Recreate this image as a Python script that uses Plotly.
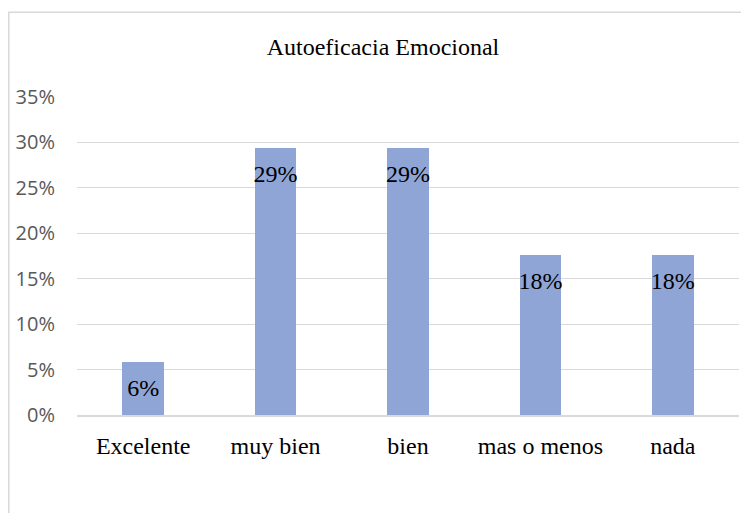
import plotly.graph_objects as go

categorias = ["Excelente", "muy bien", "bien", "mas o menos", "nada"]
porcentajes = [0.0588, 0.2941, 0.2941, 0.1765, 0.1765]
etiquetas = ["6%", "29%", "29%", "18%", "18%"]
ticks_y = [0, 0.05, 0.10, 0.15, 0.20, 0.25, 0.30, 0.35]

SERIF = "Liberation Serif, Times New Roman, serif"
SANS = "Open Sans, Liberation Sans, sans-serif"
BAR_COLOR = "#8FA5D6"
GRID = "#D9D9D9"

# the page body adds an 8px offset, so the figure is sized/positioned for it
W, H = 741, 505
OFF = 8

fig = go.Figure()
fig.add_trace(go.Bar(
    x=categorias,
    y=porcentajes,
    width=0.315,
    marker=dict(color=BAR_COLOR, line=dict(width=0)),
    hoverinfo="skip",
))
# etiquetas dentro de la barra, bajo el extremo superior
fig.add_trace(go.Scatter(
    x=categorias,
    y=porcentajes,
    mode="markers+text",
    text=etiquetas,
    textposition="bottom center",
    textfont=dict(family=SERIF, size=24, color="#000000"),
    marker=dict(size=24, opacity=0),
    hoverinfo="skip",
))

plot_left, plot_right = 77 - OFF, 739 - OFF
plot_top, plot_bottom = 97 - OFF, 415.5 - OFF
pw = plot_right - plot_left
ph = plot_bottom - plot_top

fig.add_shape(
    type="rect",
    xref="paper", yref="paper",
    x0=(0.8 - plot_left) / pw, x1=1.2,
    y0=-0.5, y1=1 + (plot_top - 4) / ph,
    line=dict(color=GRID, width=1.5),
    fillcolor="rgba(0,0,0,0)",
    layer="below",
)

fig.update_layout(
    width=W,
    height=H,
    margin=dict(l=plot_left, r=W - plot_right, t=plot_top, b=H - plot_bottom),
    paper_bgcolor="white",
    plot_bgcolor="white",
    showlegend=False,
    bargap=0,
    title=dict(
        text="Autoeficacia Emocional",
        x=(383 - OFF) / W, xanchor="center",
        y=1 - (47 - OFF) / H, yanchor="middle",
        font=dict(family=SERIF, size=24, color="#000000"),
    ),
    xaxis=dict(
        showgrid=False,
        showline=True,
        linecolor=GRID,
        linewidth=1.5,
        ticks="",
        ticklabelstandoff=8,
        tickfont=dict(family=SERIF, size=24, color="#000000"),
        automargin=False,
        fixedrange=True,
    ),
    yaxis=dict(
        range=[0, 0.35],
        tickvals=ticks_y,
        tickformat=".0%",
        showgrid=True,
        gridcolor=GRID,
        gridwidth=1.2,
        zeroline=False,
        showline=False,
        ticks="",
        ticklabelstandoff=21,
        tickfont=dict(family=SANS, size=20, color="#595959"),
        automargin=False,
        fixedrange=True,
    ),
)

fig.write_html("out.html")
